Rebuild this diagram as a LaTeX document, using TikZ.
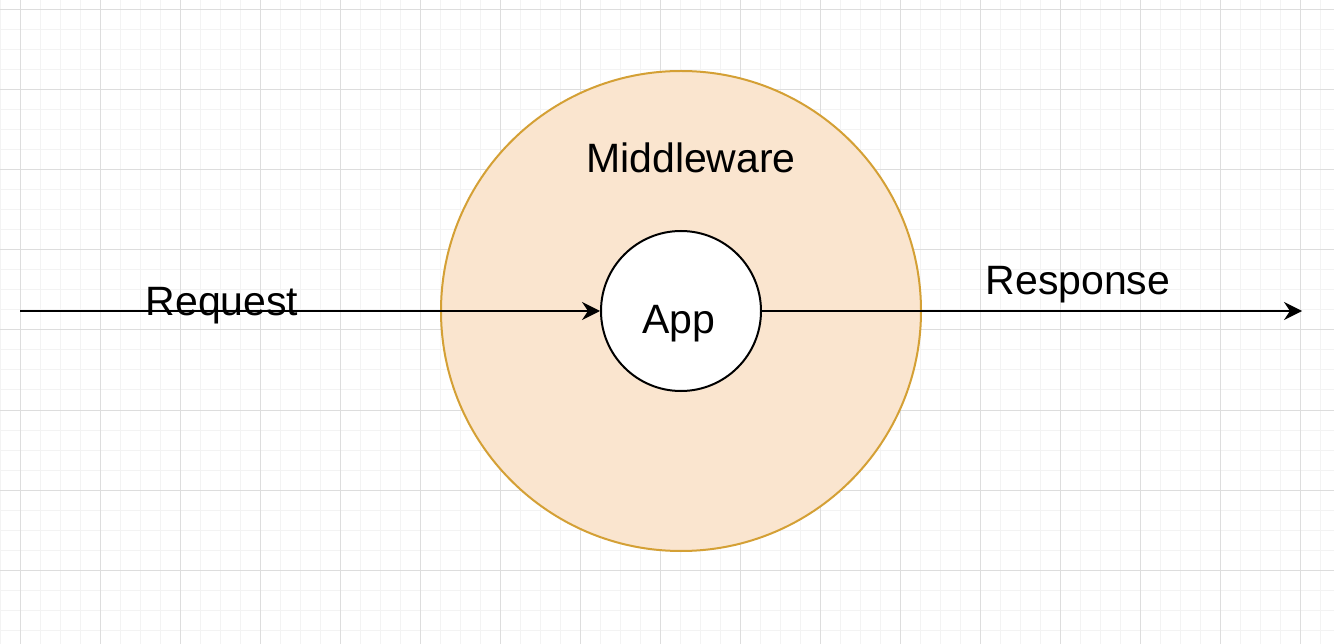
\documentclass[tikz,border=0pt]{standalone}
\usepackage{fontspec}
\setmainfont{Liberation Sans}
\usetikzlibrary{arrows.meta}
\definecolor{gridminor}{HTML}{F3F3F3}
\definecolor{gridmajor}{HTML}{DDDDDD}
\definecolor{mwfill}{HTML}{FAE5CF}
\definecolor{mwdraw}{HTML}{D4A035}
\tikzset{
  lbl/.style={inner sep=0pt, outer sep=0pt, anchor=base, font=\fontsize{41}{48}\selectfont, text=black},
  ring/.style={circle, line width=2pt, inner sep=0pt},
  conn/.style={line width=2pt, -{Stealth[length=18pt, width=18pt, inset=6pt]}},
}
\begin{document}
\begin{tikzpicture}[x=1pt, y=-1pt]
\useasboundingbox (0,0) rectangle (1334,644);
\fill[white] (0,0) rectangle (1334,644);
% minor grid
\foreach \x in {0,20,...,1320} \draw[gridminor, line width=1pt] (\x,0) -- (\x,644);
\foreach \y in {10,30,...,630} \draw[gridminor, line width=1pt] (0,\y) -- (1334,\y);
% major grid
\foreach \x in {20,100,...,1300} \draw[gridmajor, line width=1pt] (\x,0) -- (\x,644);
\foreach \y in {10,90,...,570} \draw[gridmajor, line width=1pt] (0,\y) -- (1334,\y);
% middleware
\node[ring, draw=mwdraw, fill=mwfill, minimum size=480pt] (mw) at (681,311) {};
% connectors
\coordinate (start) at (20,311);
\coordinate (end) at (1302,311);
\node[ring, draw=black, fill=white, minimum size=160pt] (app) at (681,311) {};
\draw[conn] (start) -- (app.west);
\draw[conn] (app.east) -- (end);
% labels
\node[lbl] (mwtxt) at (691,173) {Middleware};
\node[lbl] (apptxt) at (679,334) {App};
\node[lbl] (req) at (222,316) {Request};
\node[lbl] (resp) at (1078,295) {Response};
\end{tikzpicture}
\end{document}
